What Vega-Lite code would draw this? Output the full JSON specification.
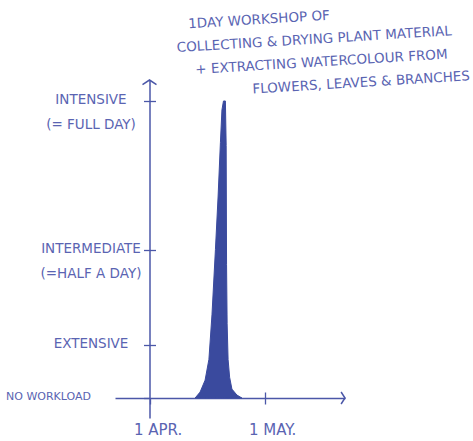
{
  "$schema": "https://vega.github.io/schema/vega-lite/v6.json",
  "width": 230,
  "height": 338,
  "autosize": {"type": "none"},
  "padding": {"left": 115, "top": 80, "right": 128, "bottom": 23},
  "background": "white",
  "config": {
    "view": {"stroke": null},
    "axis": {
      "grid": false,
      "domainColor": "#4b57a8",
      "tickColor": "#4b57a8",
      "labelColor": "#5a64b2",
      "labelFont": "DejaVu Sans",
      "labelFontSize": 13.5,
      "domainWidth": 1.5,
      "tickWidth": 1.3,
      "labelOverlap": false,
      "labelFlush": false,
      "title": null
    }
  },
  "layer": [
    {
      "data": {
        "values": [
          {"day": 11.9, "workload": 0},
          {"day": 13.2, "workload": 0.02},
          {"day": 14.5, "workload": 0.06},
          {"day": 15.5, "workload": 0.13},
          {"day": 16.3, "workload": 0.28},
          {"day": 17.2, "workload": 0.5},
          {"day": 17.9, "workload": 0.68},
          {"day": 18.5, "workload": 0.86},
          {"day": 18.9, "workload": 0.97},
          {"day": 19.3, "workload": 1.0},
          {"day": 19.8, "workload": 1.0},
          {"day": 20.0, "workload": 0.85},
          {"day": 20.1, "workload": 0.45},
          {"day": 20.25, "workload": 0.25},
          {"day": 20.5, "workload": 0.13},
          {"day": 20.9, "workload": 0.07},
          {"day": 21.5, "workload": 0.03},
          {"day": 22.8, "workload": 0.01},
          {"day": 24.1, "workload": 0}
        ]
      },
      "mark": {"type": "area", "color": "#3a4a9e", "stroke": "#3a4a9e", "strokeWidth": 1, "interpolate": "linear"},
      "encoding": {
        "x": {
          "field": "day", "type": "quantitative",
          "scale": {"domain": [-9, 51], "nice": false, "zero": false},
          "axis": {
            "orient": "bottom", "offset": -20, "values": [0, 30], "tickSize": 6,
            "labelExpr": "datum.value == 0 ? '1 APR.' : '1 MAY.'",
            "labelFontSize": 15,
            "labelAlign": "left", "labelOffset": -16, "labelPadding": 18, "labelBaseline": "top"
          }
        },
        "y": {
          "field": "workload", "type": "quantitative",
          "scale": {"domain": [-0.0673, 1.0707], "nice": false, "zero": false},
          "axis": {
            "orient": "left", "offset": -34.5, "values": [0, 0.18, 0.5, 1], "tickSize": 6,
            "labelExpr": "datum.value == 1 ? ['INTENSIVE', '(= FULL DAY)'] : datum.value == 0.5 ? ['INTERMEDIATE', '(=HALF A DAY)'] : datum.value == 0 ? 'NO WORKLOAD' : 'EXTENSIVE'",
            "labelFontSize": {"condition": {"test": "datum.value == 0", "value": 11}, "value": 13.5},
            "labelAlign": {"condition": {"test": "datum.value == 0", "value": "right"}, "value": "center"},
            "labelBaseline": "top", "labelOffset": -8, "labelPadding": 53, "labelLineHeight": 25
          }
        }
      }
    },
    {
      "data": {"values": [{}]},
      "mark": {"type": "point", "shape": "M-1,0.65L0,0L1,0.65", "filled": false, "size": 196, "stroke": "#4b57a8", "strokeWidth": 1.5, "opacity": 1},
      "encoding": {
        "x": {
          "datum": 0, "type": "quantitative",
          "scale": {"domain": [-9, 51], "nice": false, "zero": false},
          "axis": {"orient": "top", "offset": -318, "values": [30], "labels": false, "domain": false, "tickSize": 6}
        },
        "y": {
          "datum": 1.0707, "type": "quantitative",
          "scale": {"domain": [-0.0673, 1.0707], "nice": false, "zero": false},
          "axis": {"orient": "right", "offset": -195.5, "values": [0.18, 0.5, 1], "labels": false, "domain": false, "tickSize": 6}
        }
      }
    },
    {
      "data": {"values": [{}]},
      "mark": {"type": "point", "shape": "M-0.65,-1L0,0L-0.65,1", "filled": false, "size": 144, "stroke": "#4b57a8", "strokeWidth": 1.5, "opacity": 1},
      "encoding": {
        "x": {"datum": 51, "type": "quantitative", "scale": {"domain": [-9, 51], "nice": false, "zero": false}, "axis": null},
        "y": {"datum": 0, "type": "quantitative", "scale": {"domain": [-0.0673, 1.0707], "nice": false, "zero": false}, "axis": null}
      }
    },
    {
      "data": {"values": [{}]},
      "mark": {
        "type": "text",
        "text": [
          "\u200b\u00a0\u00a0\u00a01DAY WORKSHOP OF",
          "COLLECTING & DRYING PLANT MATERIAL",
          "\u200b\u00a0\u00a0\u00a0\u00a0+ EXTRACTING WATERCOLOUR FROM",
          "\u200b\u00a0\u00a0\u00a0\u00a0\u00a0\u00a0\u00a0\u00a0\u00a0\u00a0\u00a0\u00a0\u00a0\u00a0\u00a0\u00a0\u00a0FLOWERS, LEAVES & BRANCHES"
        ],
        "align": "left",
        "baseline": "top",
        "angle": -3.5,
        "lineHeight": 23,
        "font": "DejaVu Sans",
        "fontSize": 13.5,
        "color": "#5a64b2"
      },
      "encoding": {
        "x": {"datum": 6.65, "type": "quantitative", "scale": {"domain": [-9, 51], "nice": false, "zero": false}, "axis": null},
        "y": {"datum": 1.279, "type": "quantitative", "scale": {"domain": [-0.0673, 1.0707], "nice": false, "zero": false}, "axis": null}
      }
    }
  ],
  "resolve": {"axis": {"x": "independent", "y": "independent"}}
}
